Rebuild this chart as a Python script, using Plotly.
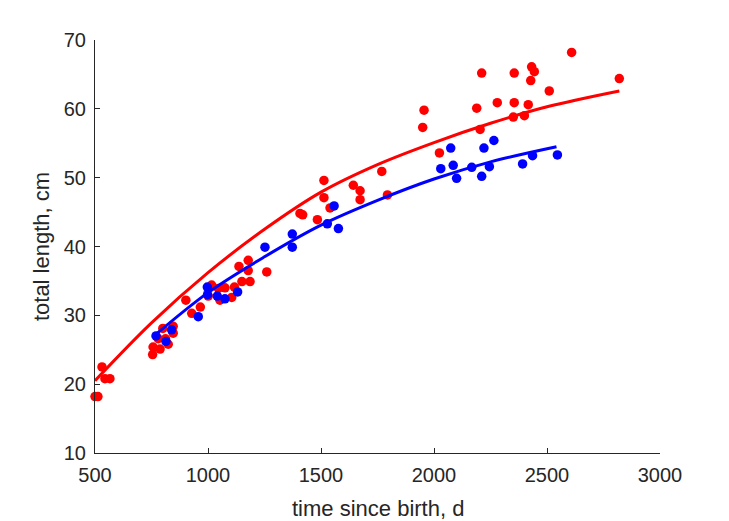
import plotly.graph_objects as go

# Red group: observed points
red_t = [500, 513, 531, 544, 566, 755, 757, 780, 788, 800, 812, 824, 846, 846,
         902, 928, 966, 1001, 1016, 1046, 1053, 1075, 1105, 1117, 1137, 1150, 1178, 1178, 1186, 1260,
         1407, 1419, 1484, 1513, 1513, 1540, 1643, 1673, 1673, 1769, 1794,
         1950, 1956, 2024, 2189, 2204, 2211, 2280, 2351, 2355, 2355, 2400, 2417, 2428, 2432, 2444,
         2510, 2609, 2820]
red_len = [18.2, 18.2, 22.5, 20.8, 20.8, 24.3, 25.4, 26.6, 25.1, 28.1, 26.6, 25.8, 28.4, 27.4,
           32.2, 30.3, 31.2, 32.8, 34.4, 33.9, 32.2, 34.0, 32.6, 34.1, 37.1, 34.9, 38.0, 36.5, 34.9, 36.3,
           44.8, 44.6, 43.9, 49.6, 47.1, 45.6, 48.9, 48.1, 46.8, 50.9, 47.5,
           57.3, 59.8, 53.6, 60.1, 57.0, 65.2, 60.9, 58.8, 65.2, 60.9, 59.0, 60.6, 64.1, 66.1, 65.4,
           62.6, 68.2, 64.4]

# Blue group: observed points
blue_t = [770, 814, 839, 957, 997, 998, 1041, 1075, 1131, 1252, 1373, 1373,
          1528, 1558, 1577, 2030, 2074, 2085, 2100, 2167, 2211, 2221, 2245, 2265, 2392, 2436, 2546]
blue_len = [27.0, 26.2, 27.9, 29.8, 34.1, 33.0, 32.8, 32.4, 33.4, 39.9, 41.8, 39.9,
            43.3, 45.9, 42.6, 51.3, 54.3, 51.8, 49.9, 51.5, 50.2, 54.3, 51.6, 55.4, 52.0, 53.2, 53.3]

# Fitted curves
red_fit_t = [500, 750, 1000, 1250, 1500, 1750, 2000, 2250, 2500, 2820]
red_fit_len = [20.5, 28.9, 36.2, 42.5, 47.9, 51.9, 55.1, 57.9, 60.3, 62.6]
blue_fit_t = [761, 1000, 1250, 1500, 1750, 2000, 2250, 2542]
blue_fit_len = [27.0, 33.3, 38.5, 43.1, 46.7, 49.8, 52.3, 54.5]

X_TITLE = "time since birth, d"
Y_TITLE = "total length, cm"

RED = "#FF0000"
BLUE = "#0000FF"
INK = "#262626"
FONT = "Liberation Sans, Arial, sans-serif"

fig = go.Figure()
fig.add_trace(go.Scatter(x=red_t, y=red_len, mode="markers",
                         marker=dict(color=RED, size=9.5, line=dict(width=0)),
                         cliponaxis=False, showlegend=False))
fig.add_trace(go.Scatter(x=blue_t, y=blue_len, mode="markers",
                         marker=dict(color=BLUE, size=9.5, line=dict(width=0)),
                         cliponaxis=False, showlegend=False))
fig.add_trace(go.Scatter(x=red_fit_t, y=red_fit_len, mode="lines",
                         line=dict(color=RED, width=3, shape="spline"),
                         showlegend=False))
fig.add_trace(go.Scatter(x=blue_fit_t, y=blue_fit_len, mode="lines",
                         line=dict(color=BLUE, width=3, shape="spline"),
                         showlegend=False))

axis_common = dict(showline=True, linecolor=INK, linewidth=1, ticks="inside",
                   ticklen=5, tickcolor=INK, showgrid=False, zeroline=False,
                   automargin=False,
                   tickfont=dict(family=FONT, size=20, color=INK),
                   title_font=dict(family=FONT, size=22, color=INK))

fig.update_xaxes(range=[500, 3000], tick0=500, dtick=500, ticklabelstandoff=4,
                 **axis_common)
fig.update_yaxes(range=[10, 70], tick0=10, dtick=10, ticklabelstandoff=4,
                 title_text=Y_TITLE, title_standoff=8, **axis_common)

fig.add_annotation(text=X_TITLE, xref="paper", yref="paper", x=0.5, y=0,
                   xanchor="center", yanchor="middle", yshift=-55, showarrow=False,
                   font=dict(family=FONT, size=22, color=INK))

fig.update_layout(width=729, height=521,
                  margin=dict(l=95, r=69, t=40, b=68),
                  paper_bgcolor="white", plot_bgcolor="white")

fig.write_html("out.html")
